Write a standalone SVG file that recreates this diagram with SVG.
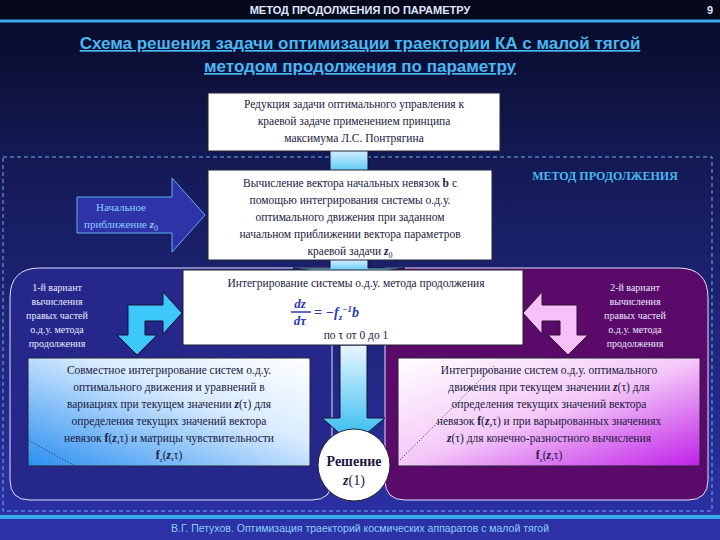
<svg xmlns="http://www.w3.org/2000/svg" width="720" height="540" viewBox="0 0 720 540">
<defs>
<linearGradient id="bg" x1="0" y1="0" x2="0" y2="1"><stop offset="0" stop-color="#070a26"/><stop offset="0.3" stop-color="#141a55"/><stop offset="1" stop-color="#2d32a8"/></linearGradient>
<linearGradient id="cy" x1="0" y1="0" x2="0" y2="1"><stop offset="0" stop-color="#e8f6ff"/><stop offset="1" stop-color="#28b8f0"/></linearGradient>
<linearGradient id="lb" x1="0" y1="1" x2="1" y2="0"><stop offset="0" stop-color="#2a8ff0"/><stop offset="0.6" stop-color="#d8ebff"/><stop offset="1" stop-color="#ffffff"/></linearGradient>
<linearGradient id="rb" x1="0" y1="0" x2="1" y2="1"><stop offset="0" stop-color="#ffffff"/><stop offset="0.5" stop-color="#f4c8f8"/><stop offset="1" stop-color="#c020e8"/></linearGradient>
<style>
.hd{font-family:"Liberation Sans",Arial,sans-serif;font-weight:bold;}
.t{font-family:"Liberation Serif","Times New Roman",serif;font-size:11.5px;fill:#1a1a40;text-anchor:middle;}
.box{fill:#fff;stroke:#223;stroke-width:1;}
.sm{font-family:"Liberation Serif",serif;font-size:10px;fill:#e8e8ff;text-anchor:middle;}
</style>
</defs>
<rect width="720" height="540" fill="url(#bg)"/>
<rect x="0" y="0" width="720" height="20" fill="#06081c"/>
<line x1="0" y1="21" x2="720" y2="21" stroke="#3aa8e8" stroke-width="3"/>
<text x="360" y="14" class="hd" font-size="11" fill="#dfe8ff" text-anchor="middle">МЕТОД ПРОДОЛЖЕНИЯ ПО ПАРАМЕТРУ</text>
<text x="710" y="14" class="hd" font-size="11" fill="#dfe8ff" text-anchor="middle">9</text>
<text x="360" y="49" class="hd" font-size="17" fill="#4ab8f0" text-anchor="middle" text-decoration="underline">Схема решения задачи оптимизации траектории КА с малой тягой</text>
<text x="360" y="72" class="hd" font-size="17" fill="#4ab8f0" text-anchor="middle" text-decoration="underline">методом продолжения по параметру</text>
<line x1="0" y1="517" x2="720" y2="517" stroke="#3aa8e8" stroke-width="4"/>
<text x="360" y="532" font-family="Liberation Sans,sans-serif" font-size="10.5" fill="#8ad0ff" text-anchor="middle">В.Г. Петухов. Оптимизация траекторий космических аппаратов с малой тягой</text>

<rect x="3" y="157" width="709" height="354" fill="none" stroke="#6ab0f0" stroke-dasharray="4,3"/>
<text x="605" y="180" font-family="Liberation Serif,serif" font-weight="bold" font-size="12" fill="#4ab8f0" text-anchor="middle">МЕТОД ПРОДОЛЖЕНИЯ</text>

<g id="panel-left"><path d="M40 268 H332 V480 Q332 500 312 500 H30 Q10 500 10 480 V298 Q10 268 40 268 Z" fill="#25288a" stroke="#e0e0ff" stroke-width="1"/>
<text class="sm" x="57" y="291">1-й вариант</text><text class="sm" x="57" y="305">вычисления</text><text class="sm" x="57" y="319">правых частей</text><text class="sm" x="57" y="333">о.д.у. метода</text><text class="sm" x="57" y="347">продолжения</text></g>
<g id="panel-right"><path d="M385 268 H678 Q708 268 708 298 V480 Q708 500 688 500 H405 Q385 500 385 480 Z" fill="#5a0a68" stroke="#e0e0ff" stroke-width="1"/>
<text class="sm" x="635" y="291">2-й вариант</text><text class="sm" x="635" y="305">вычисления</text><text class="sm" x="635" y="319">правых частей</text><text class="sm" x="635" y="333">о.д.у. метода</text><text class="sm" x="635" y="347">продолжения</text></g>

<g id="connectors">
<path d="M77 197 H172 V178 L205 215 L172 252 V233 H77 Z" fill="#2e34a8" stroke="#5ab0f0" stroke-width="1"/>
<text x="121" y="211" font-family="Liberation Serif,serif" font-size="11" fill="#8ad0ff" text-anchor="middle">Начальное</text>
<text x="121" y="228" font-family="Liberation Serif,serif" font-size="11" fill="#8ad0ff" text-anchor="middle">приближение <tspan font-style="italic" font-weight="bold">z</tspan><tspan font-size="8" dy="3">0</tspan></text>
<path d="M330 147 H368 V172 L405 172 L349 180 L293 172 L330 172 Z" fill="url(#cy)" stroke="#101030" stroke-width="1"/>
<path d="M330 258 H368 V268 L405 268 L349 276 L293 268 L330 268 Z" fill="url(#cy)" stroke="#101030" stroke-width="1"/>
<path d="M340 345 H367 V418 H385 L353 445 L322 418 H340 Z" fill="url(#cy)" stroke="#101030" stroke-width="1"/>
<path d="M128 335 V305 H163 V292 L182 313 L163 334 V321 H145 V335 H157 L137 355 L117 335 Z" fill="#3cc8f8" stroke="#101030" stroke-width="1"/>
<path d="M577 335 V305 H542 V292 L523 313 L542 334 V321 H560 V335 H548 L568 355 L588 335 Z" fill="#f8c0f8" stroke="#301030" stroke-width="1"/>
</g>

<g id="n-reduction"><rect class="box" x="208" y="93" width="292" height="58"/>
<text class="t" x="354" y="108">Редукция задачи оптимального управления к</text>
<text class="t" x="354" y="125">краевой задаче применением принципа</text>
<text class="t" x="354" y="142">максимума Л.С. Понтрягина</text></g>

<g id="n-residual"><rect class="box" x="208" y="170" width="284" height="90"/>
<text class="t" x="350" y="187">Вычисление вектора начальных невязок <tspan font-weight="bold">b</tspan> с</text>
<text class="t" x="350" y="204">помощью интегрирования системы о.д.у.</text>
<text class="t" x="350" y="221">оптимального движения при заданном</text>
<text class="t" x="350" y="238">начальном приближении вектора параметров</text>
<text class="t" x="350" y="255">краевой задачи <tspan font-style="italic" font-weight="bold">z</tspan><tspan font-size="8" dy="3">0</tspan></text></g>

<g id="n-integration"><rect class="box" x="183" y="270" width="340" height="75"/>
<text class="t" x="356" y="287">Интегрирование системы о.д.у. метода продолжения</text>
<text x="300" y="308" font-family="Liberation Serif,serif" font-style="italic" font-weight="bold" font-size="13" fill="#2a3ab0" text-anchor="middle">dz</text>
<line x1="291" y1="312" x2="311" y2="312" stroke="#2a3ab0" stroke-width="1.5"/>
<text x="300" y="325" font-family="Liberation Serif,serif" font-style="italic" font-weight="bold" font-size="13" fill="#2a3ab0" text-anchor="middle">dτ</text>
<text x="314" y="317" font-family="Liberation Serif,serif" font-style="italic" font-weight="bold" font-size="14" fill="#2a3ab0">= −f<tspan font-size="9" dy="3">z</tspan><tspan font-size="9" dy="-8">−1</tspan><tspan dy="5">b</tspan></text>
<text class="t" x="356" y="339">по τ от 0 до 1</text></g>

<g id="n-left"><rect x="28" y="358" width="282" height="108" fill="url(#lb)" stroke="#223"/>
<line x1="28" y1="440" x2="75" y2="466" stroke="#223" stroke-dasharray="1,2"/>
<text class="t" x="169" y="374">Совместное интегрирование систем о.д.у.</text>
<text class="t" x="169" y="391">оптимального движения и уравнений в</text>
<text class="t" x="169" y="408">вариациях при текущем значении <tspan font-style="italic" font-weight="bold">z</tspan>(τ) для</text>
<text class="t" x="169" y="425">определения текущих значений вектора</text>
<text class="t" x="169" y="442">невязок <tspan font-weight="bold">f</tspan>(<tspan font-style="italic" font-weight="bold">z</tspan>,τ) и матрицы чувствительности</text>
<text class="t" x="169" y="459"><tspan font-weight="bold">f</tspan><tspan font-size="7" dy="3">z</tspan><tspan dy="-3">(</tspan><tspan font-style="italic" font-weight="bold">z</tspan>,τ)</text></g>

<g id="n-right"><rect x="398" y="358" width="302" height="108" fill="url(#rb)" stroke="#223"/>
<line x1="400" y1="460" x2="495" y2="365" stroke="#223" stroke-dasharray="1,2"/>
<text class="t" x="549" y="374">Интегрирование систем о.д.у. оптимального</text>
<text class="t" x="549" y="391">движения при текущем значении <tspan font-style="italic" font-weight="bold">z</tspan>(τ) для</text>
<text class="t" x="549" y="408">определения текущих значений вектора</text>
<text class="t" x="549" y="425">невязок <tspan font-weight="bold">f</tspan>(<tspan font-style="italic" font-weight="bold">z</tspan>,τ) и при варьированных значениях</text>
<text class="t" x="549" y="442"><tspan font-style="italic" font-weight="bold">z</tspan>(τ) для конечно-разностного вычисления</text>
<text class="t" x="549" y="459"><tspan font-weight="bold">f</tspan><tspan font-size="7" dy="3">z</tspan><tspan dy="-3">(</tspan><tspan font-style="italic" font-weight="bold">z</tspan>,τ)</text></g>

<g id="n-solution"><circle cx="354" cy="465" r="36" fill="#fff" stroke="#223"/>
<text x="354" y="466" font-family="Liberation Serif,serif" font-weight="bold" font-size="14" fill="#1a1a40" text-anchor="middle">Решение</text>
<text x="354" y="485" font-family="Liberation Serif,serif" font-size="14" fill="#1a1a40" text-anchor="middle"><tspan font-style="italic" font-weight="bold">z</tspan>(1)</text></g>
</svg>
